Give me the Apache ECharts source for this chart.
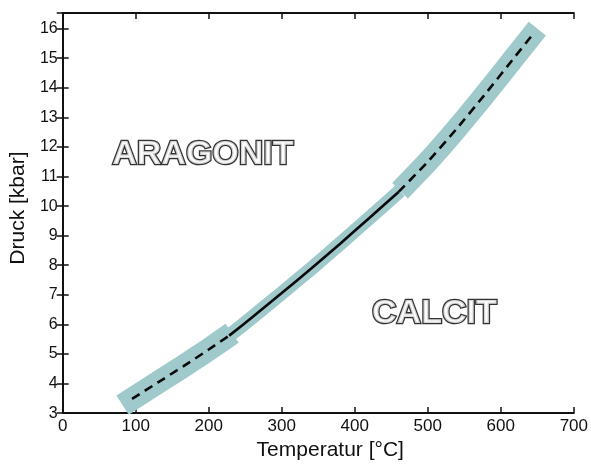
<!DOCTYPE html>
<html>
<head>
<meta charset="utf-8">
<script src="https://cdn.jsdelivr.net/npm/echarts@6/dist/echarts.min.js"></script>
<style>html,body{margin:0;padding:0;background:#fff}#c{width:591px;height:466px}</style>
</head>
<body>
<div id="c"></div>
<script>
// Phase boundary Aragonit / Calcit
const lowerT = [95, 130, 165, 200, 228];
const lowerP = [3.48, 4.03, 4.58, 5.15, 5.62];
const midT = [228, 260, 300, 340, 380, 420, 460];
const midP = [5.62, 6.25, 7.06, 7.88, 8.73, 9.60, 10.48];
const upperT = [460, 500, 540, 580, 620, 642];
const upperP = [10.48, 11.5, 12.63, 13.83, 15.07, 15.75];
// uncertainty band
const bandLowT = [82, 130, 165, 200, 232];
const bandLowP = [3.27, 4.03, 4.58, 5.15, 5.70];
const bandMidT = [228, 260, 300, 340, 380, 420, 462];
const bandMidP = [5.62, 6.25, 7.06, 7.88, 8.73, 9.60, 10.52];
const bandUpT = [462, 500, 540, 580, 620, 650];
const bandUpP = [10.52, 11.5, 12.63, 13.83, 15.07, 16.0];
// field labels
const fieldNames = ['ARAGONIT', 'CALCIT'];
const fieldT = [192, 509];
const fieldP = [11.73, 6.38];
const xTicks = [0, 700, 100];
const yTicks = [3, 16.53, 1];

const zip = (a, b) => a.map((v, i) => [v, b[i]]);
const FONT = "'Liberation Sans', Arial, sans-serif";
const bandColor = '#9fc9ca';

const chart = echarts.init(document.getElementById('c'), null, {renderer: 'canvas'});
const axisCommon = {
  axisLine: {show: true, lineStyle: {color: '#111', width: 2}},
  axisTick: {show: true, inside: true, length: 6, lineStyle: {color: '#111', width: 1.5}},
  splitLine: {show: false}
};
const bandSeries = (T, P, w) => ({
  type: 'line', data: zip(T, P), symbol: 'none', silent: true, smooth: 0.2,
  lineStyle: {color: bandColor, width: w, cap: 'butt', join: 'round'}, z: 1
});
const curveSeries = (T, P, dashed) => ({
  type: 'line', data: zip(T, P), symbol: 'none', silent: true, smooth: 0.2,
  lineStyle: {color: '#0a0a0a', width: 2.6, type: dashed ? [9, 6] : 'solid', cap: 'butt'}, z: 3
});
chart.setOption({
  animation: false,
  backgroundColor: '#fff',
  grid: {left: 59, right: 12, top: 13, bottom: 45},
  xAxis: [
    Object.assign({}, axisCommon, {
      type: 'value', min: xTicks[0], max: xTicks[1], interval: xTicks[2],
      name: 'Temperatur [°C]', nameLocation: 'middle', nameGap: 26,
      nameTextStyle: {fontFamily: FONT, fontSize: 21, color: '#111', padding: [0, 0, 0, 24]},
      axisLabel: {fontFamily: FONT, fontSize: 17, color: '#111', margin: 5}
    }),
    Object.assign({}, axisCommon, {
      type: 'value', position: 'top', min: xTicks[0], max: xTicks[1], interval: xTicks[2],
      axisLabel: {show: false}
    })
  ],
  yAxis: [
    Object.assign({}, axisCommon, {
      type: 'value', min: yTicks[0], max: yTicks[1], interval: yTicks[2],
      name: 'Druck [kbar]', nameLocation: 'middle', nameGap: 28,
      nameTextStyle: {fontFamily: FONT, fontSize: 21, color: '#111', padding: [0, 0, 0, 10]},
      axisLabel: {fontFamily: FONT, fontSize: 16, color: '#111', margin: 5,
        formatter: v => (Math.abs(v - Math.round(v)) < 1e-6 ? String(Math.round(v)) : '')}
    }),
    Object.assign({}, axisCommon, {
      type: 'value', position: 'right', min: yTicks[0], max: yTicks[1], interval: yTicks[2],
      axisLabel: {show: false}
    })
  ],
  series: [
    bandSeries(bandLowT, bandLowP, 23),
    bandSeries(bandUpT, bandUpP, 22),
    bandSeries(bandMidT, bandMidP, 14),
    curveSeries(lowerT, lowerP, true),
    curveSeries(midT, midP, false),
    curveSeries(upperT, upperP, true),
    {
      type: 'scatter', symbolSize: 0, silent: true, z: 5,
      data: fieldNames.map((n, i) => ({name: n, value: [fieldT[i], fieldP[i]]})),
      label: {
        show: true, position: 'inside', formatter: p => p.name,
        fontFamily: FONT, fontWeight: 'bold', fontSize: 34,
        color: '#fff', textBorderColor: '#000', textBorderWidth: 2.6
      }
    }
  ]
});
</script>
</body>
</html>
